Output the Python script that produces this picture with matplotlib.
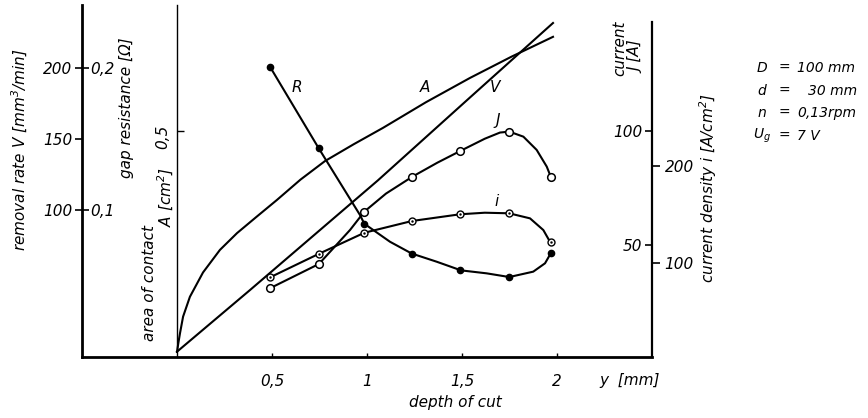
import matplotlib.pyplot as plt

plt.rcParams['font.family'] = 'DejaVu Sans'
plt.rcParams['font.style'] = 'italic'
plt.rcParams['mathtext.fontset'] = 'dejavusans'

# depth of cut y [mm] at the measured points
depth_pts = [0.49, 0.745, 0.986, 1.237, 1.49, 1.748, 1.966]
J_pts = [31.1, 41.7, 64.6, 79.9, 91.1, 99.6, 79.9]          # current J [A]
i_pts = [85.6, 109.6, 131.4, 143.5, 150.4, 151.4, 122.2]    # current density i [A/cm2]
R_pts = [0.201, 0.144, 0.0903, 0.0693, 0.0574, 0.0527, 0.0694]  # gap resistance [Ohm]

# traced curves
V_x = [0, 0.384, 1.058, 1.526, 1.979]
V_val = [0, 43.5, 121, 177.5, 232]

A_x = [0, 0.007, 0.016, 0.032, 0.068, 0.137, 0.226, 0.316, 0.419, 0.526,
       0.65, 0.779, 0.93, 1.084, 1.31, 1.542, 1.76, 1.979]
A_val = [0, 0.02, 0.043, 0.08, 0.125, 0.18, 0.231, 0.269, 0.306, 0.344,
         0.39, 0.432, 0.47, 0.507, 0.565, 0.62, 0.668, 0.713]

J_x = [0.49, 0.747, 0.823, 0.911, 0.986, 1.1, 1.239, 1.37, 1.49, 1.62, 1.70,
       1.749, 1.823, 1.893, 1.946, 1.967]
J_val = [31.1, 41.7, 48.6, 56.6, 64.6, 72.5, 79.9, 86, 91.1, 96.5, 99.2,
         99.6, 97.4, 91.6, 84.3, 79.9]

i_x = [0.49, 0.745, 0.986, 1.237, 1.49, 1.62, 1.748, 1.858, 1.928, 1.963]
i_val = [85.6, 109.6, 131.4, 143.5, 150.4, 152, 151.4, 146.2, 134.2, 122.2]

R_x = [0.49, 0.744, 0.963, 0.986, 1.121, 1.235, 1.367, 1.495, 1.63, 1.749,
       1.875, 1.937, 1.967]
R_val = [0.201, 0.144, 0.0965, 0.0903, 0.0776, 0.0693, 0.0635, 0.0574,
         0.0553, 0.0527, 0.0565, 0.0624, 0.0694]

W, H = 868, 418


def fx(px):
    return px / W


def fy(py):
    return 1 - py / H


fig = plt.figure(figsize=(W / 100, H / 100), dpi=100)
ax = fig.add_axes([fx(82), fy(357), 570 / W, 352 / H])
ax.patch.set_alpha(0)

FS = 11
lw = 1.5

# removal rate V (main axes)
ax.set_xlim(-0.5, 2.5)
ax.set_ylim(-3.74, 244.7)
ax.spines['top'].set_visible(False)
ax.spines['right'].set_visible(False)
ax.spines['left'].set_linewidth(2)
ax.spines['bottom'].set_linewidth(2)
ax.set_xticks([0.5, 1, 1.5, 2])
ax.set_xticklabels(['0,5', '1', '1,5', '2'])
ax.tick_params(axis='x', direction='in', length=3, width=1, pad=12, labelsize=FS)
ax.set_yticks([100, 150, 200])
ax.set_yticklabels(['100', '150', '200'])
ax.tick_params(axis='y', direction='out', length=5, width=1.2, pad=2, labelsize=FS)
ax.plot(V_x, V_val, color='black', lw=lw)

# gap resistance R
axR = ax.twinx()
axR.set_ylim(-3.74 / 1000, 244.7 / 1000)
for s in axR.spines.values():
    s.set_visible(False)
axR.spines['right'].set_position(('axes', 0))
axR.yaxis.tick_right()
axR.set_yticks([0.1, 0.2])
axR.set_yticklabels(['0,1', '0,2'])
axR.tick_params(axis='y', direction='out', length=5, width=1.2, pad=1, labelsize=FS)
axR.plot(R_x, R_val, color='black', lw=lw)
axR.plot(depth_pts, R_pts, 'o', color='black', ms=4.5, mfc='black')

# area of contact A
axA = ax.twinx()
axA.set_ylim(-0.0113, 0.785)
for s in axA.spines.values():
    s.set_visible(False)
axA.spines['left'].set_visible(True)
axA.spines['left'].set_position(('data', 0))
axA.spines['left'].set_linewidth(1)
axA.yaxis.tick_left()
axA.set_yticks([0.5])
axA.set_yticklabels(['0,5'])
axA.tick_params(axis='y', direction='in', length=5, width=1, pad=5,
                labelsize=FS, labelrotation=90)
axA.plot(A_x, A_val, color='black', lw=lw)

# current J
axJ = ax.twinx()
axJ.set_ylim(1.0, 155.0)
for s in axJ.spines.values():
    s.set_visible(False)
axJ.spines['left'].set_visible(True)
axJ.spines['left'].set_position(('axes', 1))
axJ.spines['left'].set_bounds(1.0, 147.5)
axJ.spines['left'].set_linewidth(1.6)
axJ.yaxis.tick_left()
axJ.set_yticks([50, 100])
axJ.set_yticklabels(['50', '100'])
axJ.tick_params(axis='y', direction='out', length=5, width=1.2, pad=2, labelsize=FS)
axJ.plot(J_x, J_val, color='black', lw=lw)
axJ.plot(depth_pts, J_pts, 'o', color='black', ms=5.5, mfc='white', mew=1.1)

# current density i
axI = ax.twinx()
axI.set_ylim(3.7, 365.5)
for s in axI.spines.values():
    s.set_visible(False)
axI.yaxis.tick_right()
axI.set_yticks([100, 200])
axI.set_yticklabels(['100', '200'])
axI.tick_params(axis='y', direction='out', length=6, width=1.2, pad=3, labelsize=FS)
axI.plot(i_x, i_val, color='black', lw=lw)
axI.plot(depth_pts, i_pts, 'o', color='black', ms=5, mfc='white', mew=1.0)
axI.plot(depth_pts, i_pts, '.', color='black', ms=1.5)

# axis titles
fig.text(fx(20), fy(150), 'removal rate V [mm$^3$/min]', rotation=90,
         ha='center', va='center', fontsize=FS)
fig.text(fx(127), fy(108), 'gap resistance [Ω]', rotation=90,
         ha='center', va='center', fontsize=FS)
fig.text(fx(150), fy(283), 'area of contact', rotation=90,
         ha='center', va='center', fontsize=FS)
fig.text(fx(166), fy(197), 'A [cm$^2$]', rotation=90,
         ha='center', va='center', fontsize=FS)
fig.text(fx(620), fy(48), 'current', rotation=90,
         ha='center', va='center', fontsize=FS)
fig.text(fx(637), fy(57), 'J [A]', rotation=90,
         ha='center', va='center', fontsize=FS)
fig.text(fx(708), fy(188), 'current density i [A/cm$^2$]', rotation=90,
         ha='center', va='center', fontsize=FS)
fig.text(fx(455), fy(403), 'depth of cut', ha='center', va='center', fontsize=FS)
fig.text(fx(630), fy(381), 'y  [mm]', ha='center', va='center', fontsize=FS)

# curve labels
for lab, px, py in [('R', 297, 88), ('A', 425, 88), ('V', 495, 88),
                    ('J', 498, 120), ('i', 497, 202)]:
    fig.text(fx(px), fy(py), lab, ha='center', va='center', fontsize=FS)

# test conditions
cond = [('D', '=', '100 mm', 797, 68), ('d', '=', '30 mm', 808, 91),
        ('n', '=', '0,13rpm', 797, 113), ('$U_g$', '=', '7 V', 797, 136)]
for sym, eq, val, vx, py in cond:
    fig.text(fx(762), fy(py), sym, ha='center', va='center', fontsize=FS - 1)
    fig.text(fx(784), fy(py), eq, ha='center', va='center', fontsize=FS - 1)
    fig.text(fx(vx), fy(py), val, ha='left', va='center', fontsize=FS - 1)

fig.savefig('out.png', dpi=100)
